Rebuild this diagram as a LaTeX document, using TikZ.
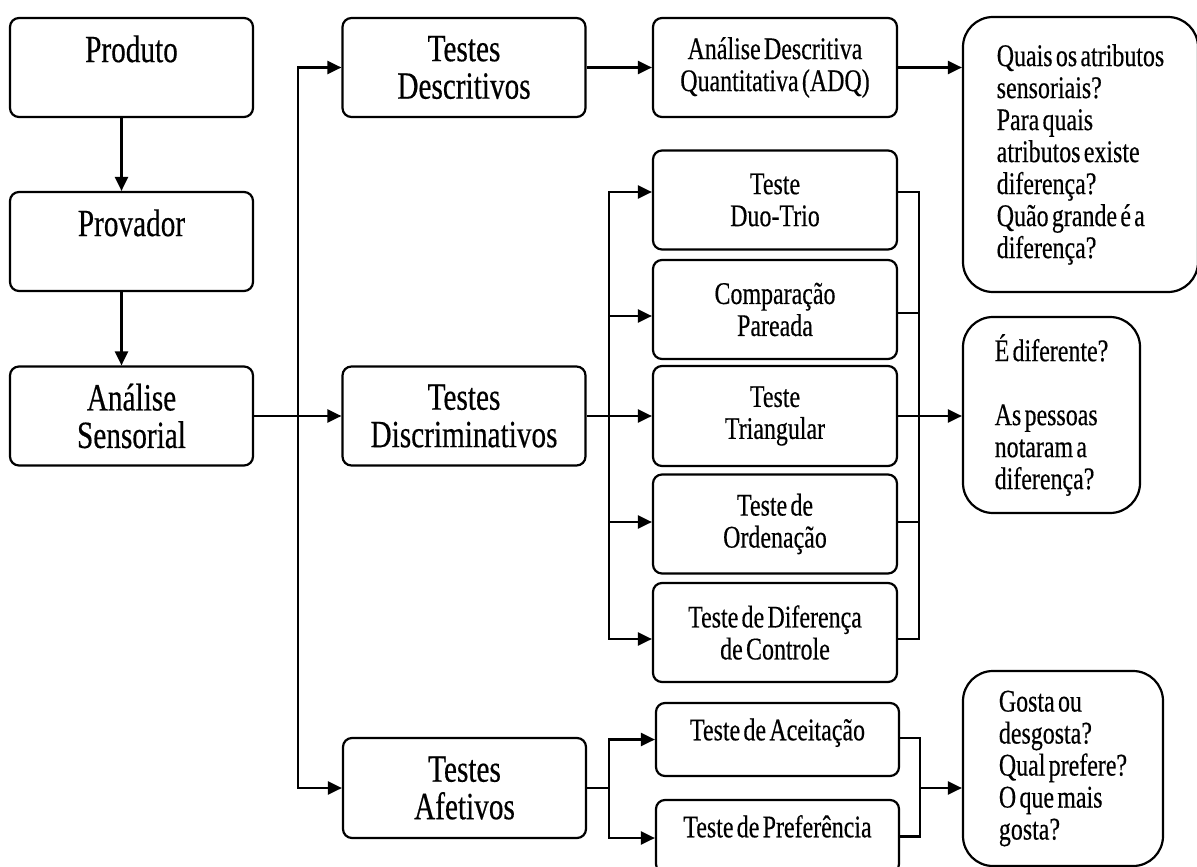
\documentclass[tikz,border=0pt]{standalone}
\usepackage{fontspec}
\setmainfont[FakeStretch=0.76,WordSpace=0.55,FakeBold=0.4]{Liberation Serif}
\usetikzlibrary{arrows.meta}
\begin{document}
\begin{tikzpicture}[x=1pt,y=-1pt,
    box/.style={draw,line width=2.2pt,rounded corners=9pt,align=center,
      minimum width=243pt,minimum height=99pt,inner sep=0pt},
    big/.style={font=\fontsize{38.5}{37.5}\selectfont},
    small/.style={font=\fontsize{31.5}{32}\selectfont},
    ans/.style={draw,line width=2.2pt,rounded corners=30pt,align=left,
      inner sep=0pt,small},
    arr/.style={line width=2.2pt,-{Triangle[length=14pt,width=13pt]}},
    ln/.style={line width=2.2pt}]
  \useasboundingbox (0,0) rectangle (1197,867);
  % first column
  \node[box,big] (produto) at (131.5,67.5) {Produto\\\mbox{}};
  \node[box,big] (provador) at (131.5,241.5) {Provador\\\mbox{}};
  \node[box,big] (analise) at (131.5,416) {Análise\\Sensorial};
  % groups of tests
  \node[box,big] (descr) at (464,67.5) {Testes\\Descritivos};
  \node[box,big] (discr) at (464,416) {Testes\\Discriminativos};
  \node[box,big,minimum height=100pt] (afet) at (464.5,788) {Testes\\Afetivos};
  % methods
  \node[box,small,minimum width=244pt] (adq) at (775,67.5) {Análise Descritiva\\Quantitativa (ADQ)};
  \node[box,small,minimum width=244pt] (duo) at (775,200) {Teste\\Duo-Trio};
  \node[box,small,minimum width=244pt] (comp) at (775,309.5) {Comparação\\Pareada};
  \node[box,small,minimum width=244pt,minimum height=100pt] (tri) at (775,416) {Teste\\Triangular};
  \node[box,small,minimum width=244pt] (ord) at (775,524) {Teste de\\Ordenação};
  \node[box,small,minimum width=244pt] (dif) at (775,632.5) {Teste de Diferença\\de Controle};
  \node[box,small,minimum height=73pt,text height=0.7em,text depth=0.54em] (acei) at (777.5,739.5) {Teste de Aceitação};
  \node[box,small,minimum height=73pt,text height=0.7em,text depth=0.54em] (pref) at (777.5,836.5) {Teste de Preferência};
  % questions
  \node[ans,minimum width=235pt,minimum height=275pt] (q1) at (1080.5,154.5)
    {Quais os atributos\\sensoriais?\\Para quais\\atributos existe\\diferença?\\Quão grande é a\\diferença?};
  \node[ans,minimum width=177pt,minimum height=196pt] (q2) at (1051.5,415)
    {É diferente?\\\mbox{}\\As pessoas\\notaram a\\diferença?};
  \node[ans,minimum width=200pt,minimum height=195pt] (q3) at (1063,768.5)
    {Gosta ou\\desgosta?\\Qual prefere?\\O que mais\\gosta?};
  % connectors
  \coordinate (bus) at (298,416);
  \coordinate (dl) at (609,416);
  \coordinate (dr) at (919,416);
  \coordinate (al) at (609,788);
  \coordinate (ar) at (920,788);
  \draw[arr] ([xshift=-10pt]produto.south) -- ([xshift=-10pt]provador.north);
  \draw[arr] ([xshift=-10pt]provador.south) -- ([xshift=-10pt]analise.north);
  \draw[arr] (analise.east) -- (discr.west);
  \draw[arr] (bus) |- (descr.west);
  \draw[arr] (bus) |- (afet.west);
  \draw[arr] (descr.east) -- (adq.west);
  \draw[arr] (adq.east) -- (adq.east -| q1.west);
  \draw[ln] (discr.east) -- (dl);
  \draw[arr] (dl) |- ([yshift=8pt]duo.west);
  \draw[arr] (dl) |- ([yshift=-6.5pt]comp.west);
  \draw[arr] (dl) -- (tri.west);
  \draw[arr] (dl) |- ([yshift=2pt]ord.west);
  \draw[arr] (dl) |- ([yshift=-6.5pt]dif.west);
  \draw[ln] ([yshift=8pt]duo.east) -| (dr);
  \draw[ln] ([yshift=-3.5pt]comp.east) -| (dr);
  \draw[ln] ([yshift=2pt]ord.east) -| (dr);
  \draw[ln] ([yshift=-6.5pt]dif.east) -| (dr);
  \draw[arr] (tri.east) -- (tri.east -| q2.west);
  \draw[ln] (afet.east) -- (al);
  \draw[arr] (al) |- (acei.west);
  \draw[arr] (al) |- ([yshift=-1.5pt]pref.west);
  \draw[ln] ([yshift=1.5pt]acei.east) -| (ar);
  \draw[ln] (pref.east) -| (ar);
  \draw[arr] (ar) -- (ar -| q3.west);
\end{tikzpicture}
\end{document}
